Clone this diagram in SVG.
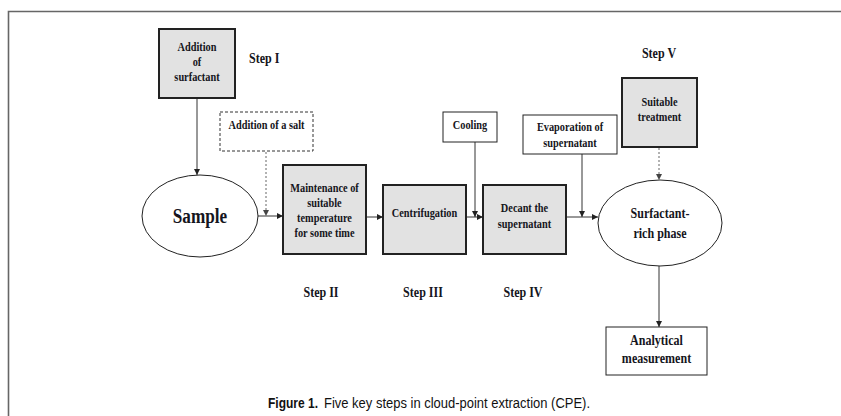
<svg xmlns="http://www.w3.org/2000/svg" width="841" height="416" viewBox="0 0 841 416">
<defs>
<marker id="ah" viewBox="0 0 10 10" refX="10" refY="5" markerWidth="6" markerHeight="6" markerUnits="userSpaceOnUse" orient="auto"><path d="M0,0 L10,5 L0,10 z" fill="#222"/></marker>
<marker id="ahg" viewBox="0 0 10 10" refX="10" refY="5" markerWidth="6" markerHeight="6" markerUnits="userSpaceOnUse" orient="auto"><path d="M0,0 L10,5 L0,10 z" fill="#444"/></marker>
</defs>
<style>
.t{font-family:"Liberation Serif","Times New Roman",serif;font-weight:bold;font-size:12px;fill:#151520;text-anchor:middle}
.s14{font-size:14px}
.s20{font-size:20px}
.g{fill:#e2e2e2;stroke:#222;stroke-width:2}
.w{fill:#fff;stroke:#222;stroke-width:1}
.d{fill:#fff;stroke:#333;stroke-width:1;stroke-dasharray:3 2}
.e{fill:#fff;stroke:#222;stroke-width:1}
.c{fill:none;stroke:#333;stroke-width:1;marker-end:url(#ah)}
.cd{fill:none;stroke:#666;stroke-width:1;stroke-dasharray:2 2;marker-end:url(#ahg)}
.cap{font-family:"Liberation Sans",Arial,sans-serif;font-size:14px;fill:#111}
</style>
<rect width="841" height="416" fill="#fff"/>
<path d="M8.5,416 V11.5 H841" fill="none" stroke="#666" stroke-width="1.6"/>

<g id="connectors">
<line class="c" x1="197" y1="98" x2="197" y2="175"/>
<line class="cd" x1="266" y1="152" x2="266" y2="216"/>
<line class="c" x1="258" y1="216" x2="283" y2="216"/>
<line class="c" x1="366" y1="217" x2="383" y2="217"/>
<line class="c" x1="475" y1="142" x2="475" y2="217"/>
<line class="c" x1="466" y1="217" x2="483" y2="217"/>
<line class="c" x1="582" y1="154" x2="582" y2="217"/>
<line class="c" x1="566" y1="217" x2="598" y2="217"/>
<line class="cd" x1="659" y1="148" x2="659" y2="180"/>
<line class="c" x1="659" y1="266" x2="659" y2="327"/>
</g>

<g id="surfactant">
<rect class="g" x="159" y="29" width="76" height="69"/>
<text class="t" transform="translate(197 51) scale(.86 1)">Addition</text>
<text class="t" transform="translate(197 66) scale(.86 1)">of</text>
<text class="t" transform="translate(197 81) scale(.86 1)">surfactant</text>
</g>
<g id="step1"><text class="t s14" style="text-anchor:start" transform="translate(249 63) scale(.86 1)">Step I</text></g>

<g id="salt">
<rect class="d" x="220" y="112" width="93" height="39"/>
<text class="t" transform="translate(266.5 129) scale(.86 1)">Addition of a salt</text>
</g>

<g id="sample">
<ellipse class="e" cx="200" cy="216" rx="58" ry="41"/>
<text class="t s20" transform="translate(200 223) scale(.86 1)">Sample</text>
</g>

<g id="maintenance">
<rect class="g" x="283" y="165" width="83" height="89"/>
<text class="t" transform="translate(324.5 192) scale(.86 1)">Maintenance of</text>
<text class="t" transform="translate(324.5 207) scale(.86 1)">suitable</text>
<text class="t" transform="translate(324.5 222) scale(.86 1)">temperature</text>
<text class="t" transform="translate(324.5 237) scale(.86 1)">for some time</text>
</g>

<g id="centrifugation">
<rect class="g" x="383" y="185" width="83" height="69"/>
<text class="t" transform="translate(424.5 217) scale(.86 1)">Centrifugation</text>
</g>

<g id="cooling">
<rect class="w" x="443" y="112" width="54" height="30"/>
<text class="t" transform="translate(470 129) scale(.86 1)">Cooling</text>
</g>

<g id="decant">
<rect class="g" x="483" y="185" width="83" height="69"/>
<text class="t" transform="translate(524.5 212) scale(.86 1)">Decant the</text>
<text class="t" transform="translate(524.5 228) scale(.86 1)">supernatant</text>
</g>

<g id="evaporation">
<rect class="w" x="523" y="115" width="94" height="39"/>
<text class="t" transform="translate(570 131) scale(.86 1)">Evaporation of</text>
<text class="t" transform="translate(570 147) scale(.86 1)">supernatant</text>
</g>

<g id="step5"><text class="t s14" transform="translate(659 58) scale(.86 1)">Step V</text></g>

<g id="treatment">
<rect class="g" x="622" y="78" width="75" height="69"/>
<text class="t" transform="translate(659.5 106) scale(.86 1)">Suitable</text>
<text class="t" transform="translate(659.5 121) scale(.86 1)">treatment</text>
</g>

<g id="richphase">
<ellipse class="e" cx="660" cy="223" rx="62" ry="43"/>
<text class="t s14" transform="translate(660 218) scale(.86 1)">Surfactant-</text>
<text class="t s14" transform="translate(660 238) scale(.86 1)">rich phase</text>
</g>

<g id="analytical">
<rect class="w" x="606" y="327" width="101" height="48"/>
<text class="t s14" transform="translate(656.5 345) scale(.86 1)">Analytical</text>
<text class="t s14" transform="translate(656.5 363) scale(.86 1)">measurement</text>
</g>

<g id="steps">
<text class="t s14" transform="translate(321 297) scale(.86 1)">Step II</text>
<text class="t s14" transform="translate(423 297) scale(.86 1)">Step III</text>
<text class="t s14" transform="translate(523 297) scale(.86 1)">Step IV</text>
</g>

<g id="caption">
<text class="cap" x="268" y="408" font-weight="bold" textLength="50" lengthAdjust="spacingAndGlyphs">Figure 1.</text>
<text class="cap" x="324" y="408" textLength="266" lengthAdjust="spacingAndGlyphs">Five key steps in cloud-point extraction (CPE).</text>
</g>
</svg>
